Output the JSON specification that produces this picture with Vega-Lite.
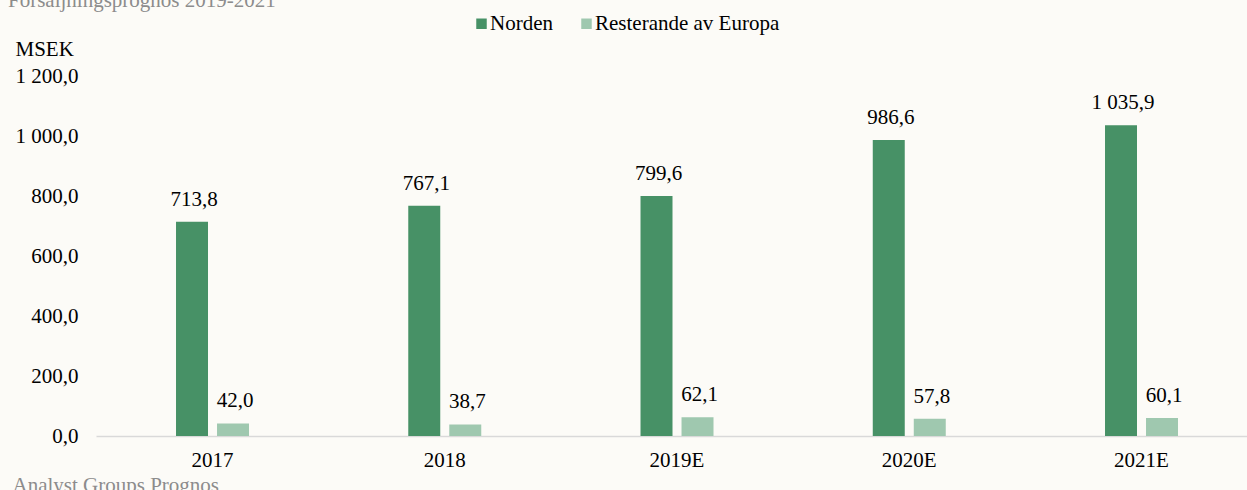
{
  "$schema": "https://vega.github.io/schema/vega-lite/v6.json",
  "width": 1151,
  "height": 360,
  "autosize": {"type": "none"},
  "padding": {"left": 96, "top": 76, "right": 0, "bottom": 54},
  "background": "#fcfbf7",
  "title": {
    "text": "Försäljningsprognos 2019-2021",
    "anchor": "start",
    "frame": "group",
    "orient": "top",
    "baseline": "alphabetic",
    "dx": -88,
    "offset": 0,
    "dy": 15,
    "font": "Liberation Serif",
    "fontSize": 21,
    "fontWeight": "normal",
    "color": "#8c8c8c"
  },
  "data": {
    "values": [
      {"year": "2017", "series": "Norden", "value": 713.8},
      {"year": "2017", "series": "Resterande av Europa", "value": 42.0},
      {"year": "2018", "series": "Norden", "value": 767.1},
      {"year": "2018", "series": "Resterande av Europa", "value": 38.7},
      {"year": "2019E", "series": "Norden", "value": 799.6},
      {"year": "2019E", "series": "Resterande av Europa", "value": 62.1},
      {"year": "2020E", "series": "Norden", "value": 986.6},
      {"year": "2020E", "series": "Resterande av Europa", "value": 57.8},
      {"year": "2021E", "series": "Norden", "value": 1035.9},
      {"year": "2021E", "series": "Resterande av Europa", "value": 60.1}
    ]
  },
  "encoding": {
    "x": {
      "field": "year",
      "type": "nominal",
      "sort": null,
      "scale": {"paddingInner": 0.6857, "paddingOuter": 0.3208, "align": 0.537},
      "axis": {
        "labelAngle": 0,
        "labelFont": "Liberation Serif",
        "labelFontSize": 21,
        "labelColor": "#000000",
        "labelPadding": 13,
        "ticks": false,
        "domainColor": "#d9d9d9",
        "domainWidth": 1.5,
        "grid": false,
        "title": "Analyst Groups Prognos",
        "titleFont": "Liberation Serif",
        "titleFontSize": 21,
        "titleFontWeight": "normal",
        "titleColor": "#8c8c8c",
        "titleAnchor": "start",
        "titleAlign": "left",
        "titleBaseline": "alphabetic",
        "titleX": -84,
        "titleY": 55
      }
    },
    "xOffset": {
      "field": "series",
      "type": "nominal",
      "sort": ["Norden", "Resterande av Europa"],
      "scale": {"paddingInner": 0.22, "paddingOuter": 0}
    },
    "y": {
      "field": "value",
      "type": "quantitative",
      "scale": {"domain": [0, 1200]},
      "axis": {
        "values": [0, 200, 400, 600, 800, 1000, 1200],
        "format": ",.1f",
        "labelFont": "Liberation Serif",
        "labelFontSize": 21,
        "labelColor": "#000000",
        "labelPadding": 18,
        "ticks": false,
        "domain": false,
        "grid": false,
        "title": "MSEK",
        "titleAngle": 0,
        "titleAlign": "left",
        "titleBaseline": "alphabetic",
        "titleX": -81,
        "titleY": -21,
        "titleFont": "Liberation Serif",
        "titleFontSize": 21,
        "titleFontWeight": "normal",
        "titleColor": "#000000"
      }
    }
  },
  "layer": [
    {
      "mark": {"type": "bar"},
      "encoding": {
        "color": {
          "field": "series",
          "type": "nominal",
          "scale": {"domain": ["Norden", "Resterande av Europa"], "range": ["#479166", "#9fc8af"]},
          "legend": {
            "orient": "none",
            "legendX": 375,
            "legendY": -63,
            "direction": "horizontal",
            "title": null,
            "symbolType": "square",
            "symbolSize": 110,
            "symbolStrokeWidth": 0,
            "symbolOffset": 0,
            "labelFont": "Liberation Serif",
            "labelFontSize": 21,
            "labelColor": "#000000",
            "labelOffset": -2,
            "labelLimit": 400,
            "columnPadding": 23,
            "padding": 0
          }
        }
      }
    },
    {
      "mark": {"type": "text", "dy": -16, "dx": 2, "baseline": "alphabetic", "align": "center", "font": "Liberation Serif", "fontSize": 21, "color": "#000000"},
      "encoding": {
        "text": {"field": "value", "type": "quantitative", "format": ",.1f"}
      }
    }
  ],
  "config": {
    "view": {"stroke": null},
    "locale": {"number": {"decimal": ",", "thousands": " ", "grouping": [3], "currency": ["", " kr"]}}
  }
}
